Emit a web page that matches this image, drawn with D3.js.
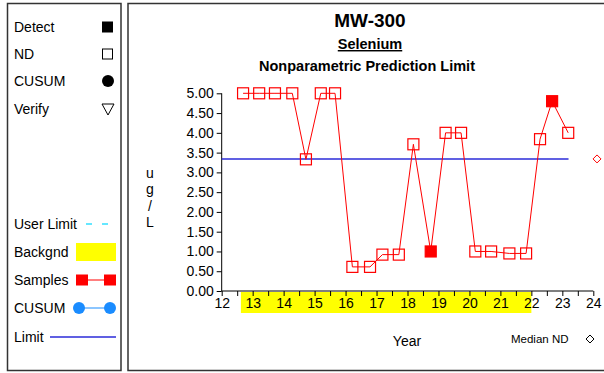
<!DOCTYPE html>
<html lang="en">
<head>
<meta charset="utf-8">
<script src="https://d3js.org/d3.v7.min.js"></script>
<style>
body { margin: 0; background: #fff; }
text { font-family: "Liberation Sans", Arial, sans-serif; fill: #000; }
.axis path, .axis line { stroke: #000; stroke-width: 1; }
</style>
</head>
<body>
<div id="chart"></div>
<script>

// sample dates (decimal year, 2-digit) and results in ug/L
var years  = [12.69, 13.21, 13.72, 14.28, 14.72, 15.2, 15.66, 16.22, 16.79, 17.19, 17.72,
              18.19, 18.75, 19.23, 19.73, 20.19, 20.7, 21.29, 21.83, 22.28, 22.67, 23.19];
var values = [5, 5, 5, 5, 3.33, 5, 5, 0.61, 0.61, 0.92, 0.92,
              3.71, 1.0, 4.0, 4.0, 1.0, 1.0, 0.95, 0.95, 3.84, 4.8, 4.0];
var detect = [0, 0, 0, 0, 0, 0, 0, 0, 0, 0, 0,
              0, 1, 0, 0, 0, 0, 0, 0, 0, 1, 0];

var limitValue = 3.34;
var limitRange = [12, 23.2];
var medianND = {year: 24.12, value: 3.34};
var backgroundRange = [12.62, 22.0];

var yTicks = [0, 0.5, 1, 1.5, 2, 2.5, 3, 3.5, 4, 4.5, 5];
var xTicks = [12, 13, 14, 15, 16, 17, 18, 19, 20, 21, 22, 23, 24];
var xMinorTicks = d3.range(12, 24.01, 0.5);

var legendTop = ["Detect", "ND", "CUSUM", "Verify"];
var legendBottom = ["User Limit", "Backgnd", "Samples", "CUSUM", "Limit"];

var W = 604, H = 373;
var svg = d3.select("#chart").append("svg")
    .attr("width", W).attr("height", H);

// panels
svg.append("rect").attr("x", 7.5).attr("y", 3.5).attr("width", 113.5).attr("height", 367)
    .attr("fill", "none").attr("stroke", "#333").attr("stroke-width", 1.5);
svg.append("rect").attr("x", 128).attr("y", 3.5).attr("width", 490).attr("height", 367)
    .attr("fill", "none").attr("stroke", "#333").attr("stroke-width", 1.5);

// left legend - symbols
var lg = svg.append("g");
var topY = [27, 54, 81, 109];
legendTop.forEach(function(t, i) {
  lg.append("text").attr("x", 14).attr("y", topY[i] + 5).style("font-size", "14px").text(t);
});
lg.append("rect").attr("x", 102).attr("y", topY[0] - 5.5).attr("width", 11).attr("height", 11).attr("fill", "#000");
lg.append("rect").attr("x", 102.5).attr("y", topY[1] - 5).attr("width", 10).attr("height", 10)
    .attr("fill", "none").attr("stroke", "#000").attr("stroke-width", 1);
lg.append("circle").attr("cx", 108).attr("cy", topY[2]).attr("r", 6).attr("fill", "#000");
lg.append("path").attr("d", "M102,104 L114,104 L108,115 Z")
    .attr("fill", "none").attr("stroke", "#000").attr("stroke-width", 1);

var botY = [224, 252, 280, 308, 337];
legendBottom.forEach(function(t, i) {
  lg.append("text").attr("x", 14).attr("y", botY[i] + 5).style("font-size", "14px").text(t);
});
// user limit
lg.append("line").attr("x1", 86).attr("x2", 110).attr("y1", botY[0]).attr("y2", botY[0])
    .attr("stroke", "#33e0ff").attr("stroke-width", 1.5).attr("stroke-dasharray", "6,10");
// backgnd
lg.append("rect").attr("x", 76).attr("y", 243).attr("width", 40).attr("height", 18).attr("fill", "#ffff00");
// samples
lg.append("line").attr("x1", 82).attr("x2", 110).attr("y1", botY[2]).attr("y2", botY[2])
    .attr("stroke", "#ff0000").attr("stroke-width", 1);
lg.append("rect").attr("x", 76).attr("y", botY[2] - 5.5).attr("width", 12).attr("height", 11).attr("fill", "#ff0000");
lg.append("rect").attr("x", 104).attr("y", botY[2] - 5.5).attr("width", 12).attr("height", 11).attr("fill", "#ff0000");
// cusum
lg.append("line").attr("x1", 79).attr("x2", 110).attr("y1", botY[3]).attr("y2", botY[3])
    .attr("stroke", "#66b3ff").attr("stroke-width", 1.5);
lg.append("circle").attr("cx", 79).attr("cy", botY[3]).attr("r", 6).attr("fill", "#1a8cff");
lg.append("circle").attr("cx", 110).attr("cy", botY[3]).attr("r", 6).attr("fill", "#1a8cff");
// limit
lg.append("line").attr("x1", 50).attr("x2", 116).attr("y1", botY[4]).attr("y2", botY[4])
    .attr("stroke", "#2b2bd9").attr("stroke-width", 1.5);

// titles
svg.append("text").attr("x", 370).attr("y", 27).attr("text-anchor", "middle")
    .style("font-size", "19px").style("font-weight", "bold").text("MW-300");
svg.append("text").attr("x", 370).attr("y", 49).attr("text-anchor", "middle")
    .style("font-size", "14.5px").style("font-weight", "bold")
    .style("text-decoration", "underline").text("Selenium");
svg.append("text").attr("x", 367).attr("y", 71).attr("text-anchor", "middle")
    .style("font-size", "14.5px").style("font-weight", "bold").text("Nonparametric Prediction Limit");

// scales
var x = d3.scaleLinear().domain([12, 24]).range([221.7, 593.3]);
var y = d3.scaleLinear().domain([0, 5]).range([291, 93.3]);

// background band
svg.append("rect")
    .attr("x", x(backgroundRange[0])).attr("y", 292)
    .attr("width", x(backgroundRange[1]) - x(backgroundRange[0])).attr("height", 21)
    .attr("fill", "#ffff00");

// y axis
var yAxis = svg.append("g").attr("class", "axis")
    .attr("transform", "translate(" + x(12) + ",0)")
    .call(d3.axisLeft(y).tickValues(yTicks).tickSize(5).tickSizeOuter(0)
      .tickFormat(d3.format(".2f")));
yAxis.selectAll("text").style("font-size", "14px").attr("x", -8);
yAxis.select(".domain").attr("d", "M0," + y(0) + "V" + y(5));

// x axis
var xAxis = svg.append("g").attr("class", "axis")
    .attr("transform", "translate(0," + y(0) + ")")
    .call(d3.axisBottom(x).tickValues(xMinorTicks).tickSize(5).tickSizeOuter(0)
      .tickFormat(function(d) { return xTicks.indexOf(d) >= 0 ? d : ""; }));
xAxis.selectAll("text").style("font-size", "14px").attr("y", 7);
xAxis.select(".domain").attr("d", "M" + x(12) + ",0H" + x(24));

// y label
["u", "g", "/", "L"].forEach(function(c, i) {
  svg.append("text").attr("x", 150).attr("y", 178 + i * 16.3)
    .attr("text-anchor", "middle").style("font-size", "14px").text(c);
});

// x label
svg.append("text").attr("x", 407).attr("y", 346).attr("text-anchor", "middle")
    .style("font-size", "14px").text("Year");
svg.append("text").attr("x", 511).attr("y", 343)
    .style("font-size", "11.5px").text("Median ND");
svg.append("path")
    .attr("d", "M590,335 L594,339 L590,343 L586,339 Z")
    .attr("fill", "none").attr("stroke", "#000").attr("stroke-width", 1);

// limit line
svg.append("line")
    .attr("x1", x(limitRange[0])).attr("x2", x(limitRange[1]))
    .attr("y1", y(limitValue)).attr("y2", y(limitValue))
    .attr("stroke", "#2b2bd9").attr("stroke-width", 1.5);

// samples
var pts = years.map(function(d, i) { return {x: d, y: values[i], det: detect[i]}; });
svg.append("path").datum(pts)
    .attr("fill", "none").attr("stroke", "#ff0000").attr("stroke-width", 1)
    .attr("d", d3.line().x(function(d) { return x(d.x); }).y(function(d) { return y(d.y); }));

svg.selectAll(".pt").data(pts).enter().append("rect")
    .attr("class", "pt")
    .attr("x", function(d) { return x(d.x) - 5.5; })
    .attr("y", function(d) { return y(d.y) - 5.5; })
    .attr("width", 11).attr("height", 11)
    .attr("fill", function(d) { return d.det ? "#ff0000" : "#fff"; })
    .attr("fill-opacity", function(d) { return d.det ? 1 : 0; })
    .attr("stroke", "#ff0000").attr("stroke-width", 1.2);

// median ND marker
svg.append("path")
    .attr("transform", "translate(" + x(medianND.year) + "," + y(medianND.value) + ")")
    .attr("d", "M0,-4 L4,0 L0,4 L-4,0 Z")
    .attr("fill", "none").attr("stroke", "#ff0000").attr("stroke-width", 1);

</script>
</body>
</html>
